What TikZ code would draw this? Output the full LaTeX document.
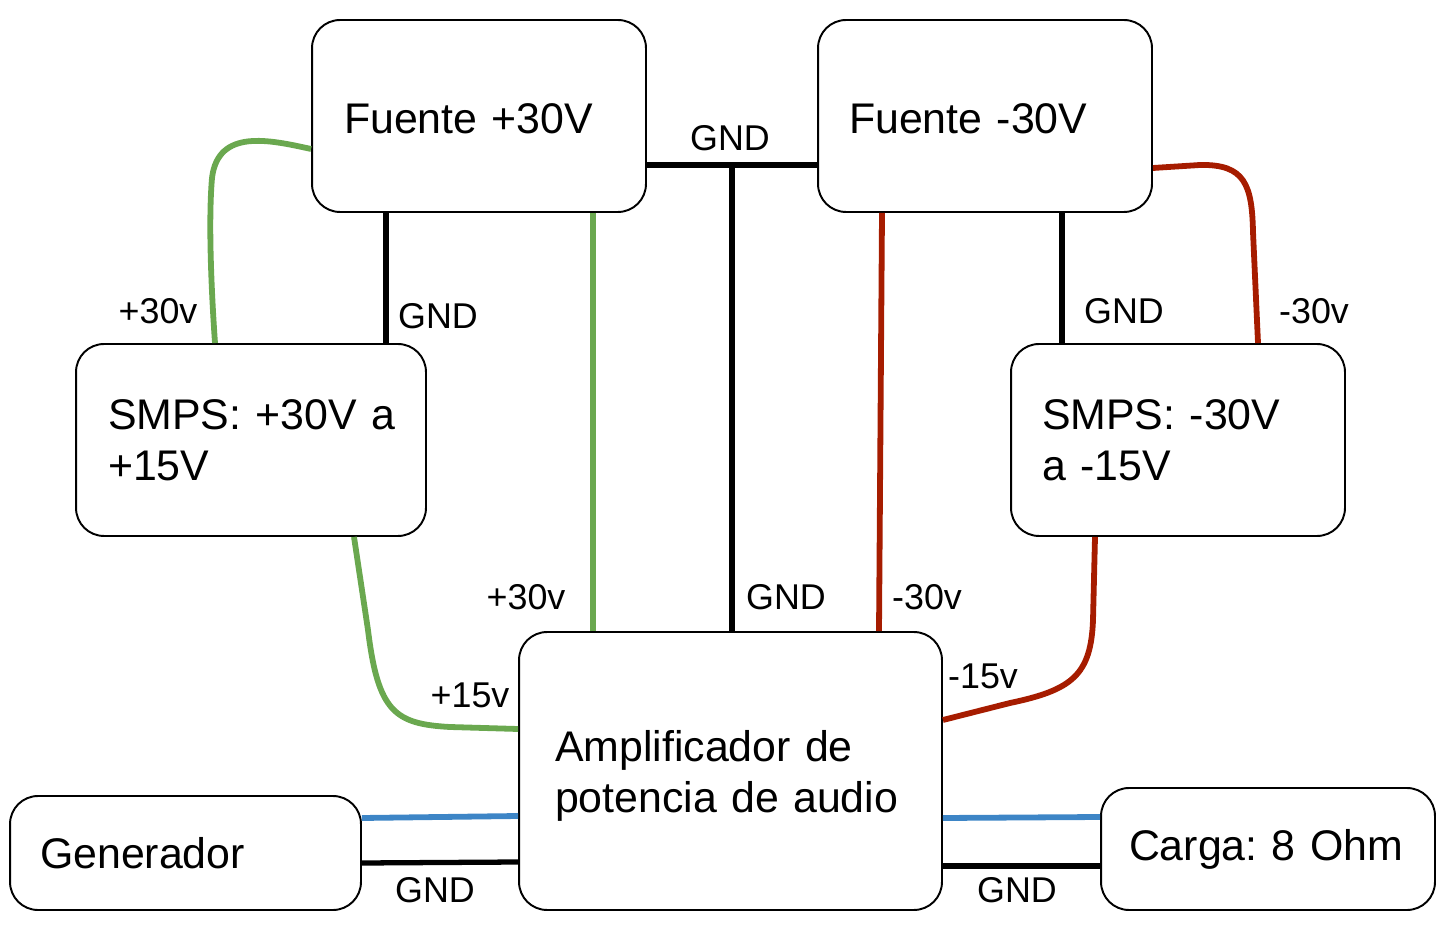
\documentclass[tikz,border=0pt]{standalone}
\usepackage{fontspec}
\setmainfont{Liberation Sans}
\usetikzlibrary{calc}
\definecolor{cgreen}{HTML}{6AA84F}
\definecolor{cred}{HTML}{A61C00}
\definecolor{cblue}{HTML}{3D85C6}
\tikzset{
  box/.style={draw, fill=white, rounded corners=0.56cm, line width=1.1pt, inner xsep=0pt, inner ysep=0pt, align=left,
    font=\fontsize{24.4}{29}\selectfont},
  lbl/.style={inner sep=0pt, font=\fontsize{20.4}{24}\selectfont},
  wire/.style={line width=3pt, line cap=butt},
  gwire/.style={wire, line width=3.3pt, cgreen},
  rwire/.style={wire, line width=3.3pt, cred},
  bwire/.style={wire, line width=3.3pt, cblue},
  kwire/.style={wire, black},
}
\begin{document}
\begin{tikzpicture}[x=0.02cm, y=-0.02cm]
\useasboundingbox (0,0) rectangle (1456,928);
% boxes
\node[box, minimum width=6.68cm, minimum height=3.84cm, text width=5.4cm] (F30p) at (479,116) {\rule{0pt}{19.7pt}Fuente~+30V};
\node[box, minimum width=6.68cm, minimum height=3.84cm, text width=5.44cm] (F30n) at (985,116) {\rule{0pt}{19.7pt}Fuente~-30V};
\node[box, minimum width=7.0cm, minimum height=3.84cm, text width=5.72cm] (SMPSp) at (251,440) {SMPS:~+30V~a\\+15V};
\node[box, minimum width=6.68cm, minimum height=3.84cm, text width=5.44cm] (SMPSn) at (1178,440) {SMPS:~-30V\\a~-15V};
\node[box, minimum width=8.46cm, minimum height=5.56cm, text width=7.02cm] (Amp) at (730.5,771) {\rule{0pt}{23.4pt}Amplificador~de\\potencia~de~audio};
\node[box, minimum width=7.02cm, minimum height=2.28cm, text width=5.82cm] (Gen) at (185.5,853) {Generador};
\node[box, minimum width=6.68cm, minimum height=2.44cm, text width=5.56cm] (Carga) at (1268,849) {Carga:~8~Ohm};

% junction on top GND line
\coordinate (gj) at ($(F30p.east |- 0,165)!0.5!(F30n.west |- 0,165)$);

% connectors
\draw[kwire] (F30p.east |- 0,165) -- (F30n.west |- 0,165);
\draw[kwire] (gj) -- (Amp.north -| gj);
\draw[kwire] (F30p.south -| 386,0) -- (SMPSp.north -| 386,0);
\draw[kwire] (F30n.south -| 1062,0) -- (SMPSn.north -| 1062,0);
\draw[gwire] (F30p.south -| 593,0) -- (Amp.north -| 593,0);
\draw[rwire] (F30n.south -| 882,0) -- (Amp.north -| 879,0);
\draw[gwire] (F30p.west |- 0,149) .. controls (270,140) and (218,128) .. (212,178)
  .. controls (208,225) and (212,300) .. (SMPSp.north -| 215,0);
\draw[rwire] (F30n.east |- 0,168) -- (1200,165) .. controls (1245,164) and (1252,185) .. (1253,232)
  -- (SMPSn.north -| 1258,0);
\draw[gwire] (SMPSp.south -| 354,0) -- (368,630) .. controls (378,712) and (395,724) .. (450,727)
  -- (Amp.west |- 0,729);
\draw[rwire] (SMPSn.south -| 1095,0) -- (1093,620) .. controls (1091,675) and (1072,690) .. (1010,703)
  -- (Amp.east |- 0,720);
\draw[bwire] (Gen.east |- 0,818) -- (Amp.west |- 0,816);
\draw[kwire] (Gen.east |- 0,863) -- (Amp.west |- 0,862);
\draw[bwire] (Amp.east |- 0,818) -- (Carga.west |- 0,817);
\draw[kwire] (Amp.east |- 0,866) -- (Carga.west |- 0,866);

% labels
\node[lbl] (l1) at (158,311) {+30v};
\node[lbl] (l2) at (438,316) {GND};
\node[lbl] (l3) at (730,138) {GND};
\node[lbl] (l4) at (526,597) {+30v};
\node[lbl] (l5) at (786,597) {GND};
\node[lbl] (l6) at (927,597) {-30v};
\node[lbl] (l7) at (1124,311) {GND};
\node[lbl] (l8) at (1314,311) {-30v};
\node[lbl] (l9) at (470,695) {+15v};
\node[lbl] (l10) at (983,676) {-15v};
\node[lbl] (l11) at (435,890) {GND};
\node[lbl] (l12) at (1017,890) {GND};
\end{tikzpicture}
\end{document}
